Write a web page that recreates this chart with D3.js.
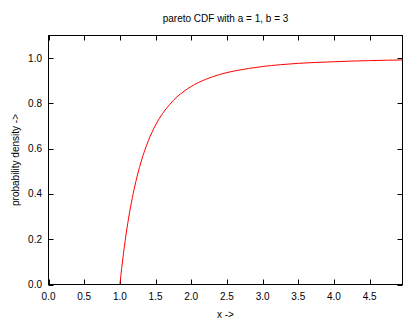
<!DOCTYPE html>
<html><head><meta charset="utf-8">
<script src="https://cdn.jsdelivr.net/npm/d3@7"></script>
<style>body{margin:0;background:#fff}svg{display:block}text{font-family:"Liberation Sans",Arial,sans-serif;font-size:10px;fill:#000}</style>
</head><body><svg id="c" width="420" height="320"></svg>
<script>
const title = "pareto CDF with a = 1, b = 3";
const xLabel = "x ->";
const yLabel = "probability density ->";
const xTicks = [0, 0.5, 1, 1.5, 2, 2.5, 3, 3.5, 4, 4.5];
const yTicks = [0, 0.2, 0.4, 0.6, 0.8, 1.0];
const xs = [1.0, 1.05, 1.1, 1.15, 1.2, 1.25, 1.3, 1.4, 1.5, 1.6, 1.7, 1.8, 1.9, 2.0, 2.2, 2.4, 2.6, 2.8, 3.0, 3.25, 3.5, 3.75, 4.0, 4.25, 4.5, 4.75, 4.96];
const ys = [0, 0.136, 0.249, 0.343, 0.421, 0.488, 0.545, 0.636, 0.704, 0.756, 0.796, 0.829, 0.854, 0.875, 0.906, 0.928, 0.943, 0.954, 0.963, 0.971, 0.977, 0.981, 0.984, 0.987, 0.989, 0.991, 0.992];

const svg = d3.select("#c");
const L = 48.5, R = 402.5, T = 35.5, B = 284.5;
const x = d3.scaleLinear().domain([0, 4.96]).range([L, R]);
const y = d3.scaleLinear().domain([0, 1.1]).range([B, T]);

svg.append("text").attr("x", (L+R)/2).attr("y", 22).attr("text-anchor","middle").text(title);

const tl = 5;
const g = svg.append("g");
xTicks.forEach(v => {
  g.append("line").attr("x1", Math.round(x(v))+0.5).attr("x2", Math.round(x(v))+0.5).attr("y1", B).attr("y2", B - tl).attr("stroke","#000");
  g.append("line").attr("x1", Math.round(x(v))+0.5).attr("x2", Math.round(x(v))+0.5).attr("y1", T).attr("y2", T + tl).attr("stroke","#000");
  g.append("text").attr("x", x(v)).attr("y", 300).attr("text-anchor","middle").text(d3.format(".1f")(v));
});
yTicks.forEach(v => {
  const yy = Math.round(y(v))+0.5;
  g.append("line").attr("x1", L).attr("x2", L + tl).attr("y1", yy).attr("y2", yy).attr("stroke","#000");
  g.append("line").attr("x1", R).attr("x2", R - tl).attr("y1", yy).attr("y2", yy).attr("stroke","#000");
  g.append("text").attr("x", 42).attr("y", y(v) + 3.5).attr("text-anchor","end").text(d3.format(".1f")(v));
});

const pts = xs.map((v,i)=>[v, ys[i]]);
svg.append("path").datum(pts)
  .attr("d", d3.line().x(d=>x(d[0])).y(d=>y(d[1])).curve(d3.curveMonotoneX))
  .attr("fill","none").attr("stroke","#ff0000").attr("stroke-width",1);

svg.append("rect").attr("x", L).attr("y", T).attr("width", R-L).attr("height", B-T)
  .attr("fill","none").attr("stroke","#000").attr("stroke-width",1);

svg.append("text").attr("x", (L+R)/2).attr("y", 318).attr("text-anchor","middle").text(xLabel);
svg.append("text").attr("transform", `translate(19,${(T+B)/2}) rotate(-90)`).attr("text-anchor","middle").text(yLabel);
</script></body></html>
